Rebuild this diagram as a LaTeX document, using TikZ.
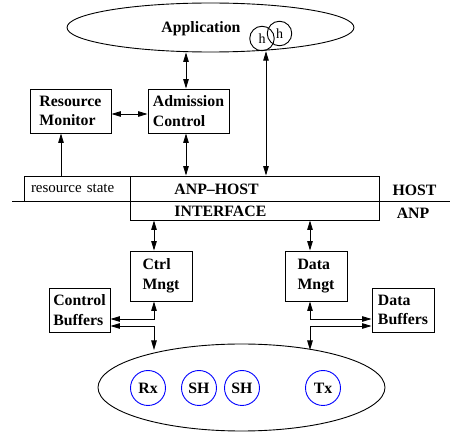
\documentclass[tikz,border=0pt]{standalone}
\usepackage{fontspec}
\setmainfont{Liberation Serif}
\usetikzlibrary{arrows.meta,shapes.geometric,calc}
\begin{document}
\begin{tikzpicture}[x=1pt,y=-1pt,
  every node/.style={font=\fontsize{15.8}{19.5}\selectfont\bfseries},
  >={Triangle[length=9.5pt,width=5.5pt]},
  every path/.style={line width=0.9pt},
  box/.style={draw, rectangle, inner sep=0pt, align=left},
  lbl/.style={inner sep=0pt},
  hc/.style={draw, circle, minimum size=24.5pt, inner sep=0pt, font=\fontsize{14}{16}\selectfont},
  bc/.style={draw=blue, circle, minimum size=35pt, inner sep=0pt},
  oval/.style={draw, ellipse, inner sep=0pt}]
\useasboundingbox (0,0) rectangle (451,433);
% column coordinates
\coordinate (xa) at (186,0);
\coordinate (xh) at (266,0);
\coordinate (xr) at (61,0);
\coordinate (xc) at (154,0);
\coordinate (xd) at (310,0);
% application
\node[oval, minimum width=287pt, minimum height=49pt] (app) at (210.5,27.5) {};
\node[lbl] (apptext) at (201,29) {Application};
\node[hc] (h1) at (262,38.5) {h};
\node[hc] (h2) at (279.5,33.5) {h};
% host boxes
\node[box, minimum width=81pt, minimum height=44pt] (rm) at (70.5,111) {Resource\\Monitor};
\node[box, minimum width=81pt, minimum height=44pt] (adm) at (188.5,111) {Admission\\Control};
\node[box, minimum width=106pt, minimum height=25pt, text width=92pt, font=\fontsize{15}{18}\selectfont] (rs) at (77,188.5) {resource state};
\node[box, minimum width=249pt, minimum height=44pt] (anp) at (254.5,198) {};
\node[lbl, anchor=west] (anphost) at (174,189.5) {ANP--HOST};
\node[lbl, anchor=west] (intf) at (174,211) {INTERFACE};
\node[lbl] (host) at (414.5,190) {HOST};
\node[lbl] (anplbl) at (413,213) {ANP};
\coordinate (hl) at (12,201);
\coordinate (hr) at (450,201);
\draw (hl) -- (hr);
% ANP boxes
\node[box, minimum width=62pt, minimum height=50pt] (ctrl) at (161,276) {Ctrl\\Mngt};
\node[box, minimum width=62pt, minimum height=50pt] (data) at (316,276) {Data\\Mngt};
\node[box, minimum width=61pt, minimum height=44pt] (cbuf) at (79.5,310) {Control\\Buffers};
\node[box, minimum width=62pt, minimum height=44pt] (dbuf) at (403,310) {Data\\Buffers};
% network ellipse
\node[oval, minimum width=287pt, minimum height=87pt] (net) at (241.5,387.5) {};
\node[bc] (rx) at (148,388) {Rx};
\node[bc] (sh1) at (199,388) {SH};
\node[bc] (sh2) at (242,388) {SH};
\node[bc] (tx) at (323,388) {Tx};
\coordinate (netin1) at (154,350);
\coordinate (netin2) at (310,350);
% connectors
\draw[<->] (app.south -| xa) -- (adm.north -| xa);
\draw[<->] ([yshift=-3pt]rm.east) -- ([yshift=-3pt]adm.west);
\draw[->] (rs.north -| xr) -- (rm.south -| xr);
\draw[<->] (adm.south -| xa) -- (anp.north -| xa);
\draw[<->] (anp.north -| xh) -- (h1.south -| xh);
\draw[<->] (anp.south -| xc) -- (ctrl.north -| xc);
\draw[<->] (anp.south -| xd) -- (data.north -| xd);
\draw[<->] (ctrl.south -| xc) |- ([yshift=-9pt]cbuf.east);
\draw[<->] ([yshift=-16pt]cbuf.east) -| (netin1);
\draw[<->] (data.south -| xd) |- ([yshift=-9pt]dbuf.west);
\draw[<->] ([yshift=-16pt]dbuf.west) -| (netin2);
\end{tikzpicture}
\end{document}
